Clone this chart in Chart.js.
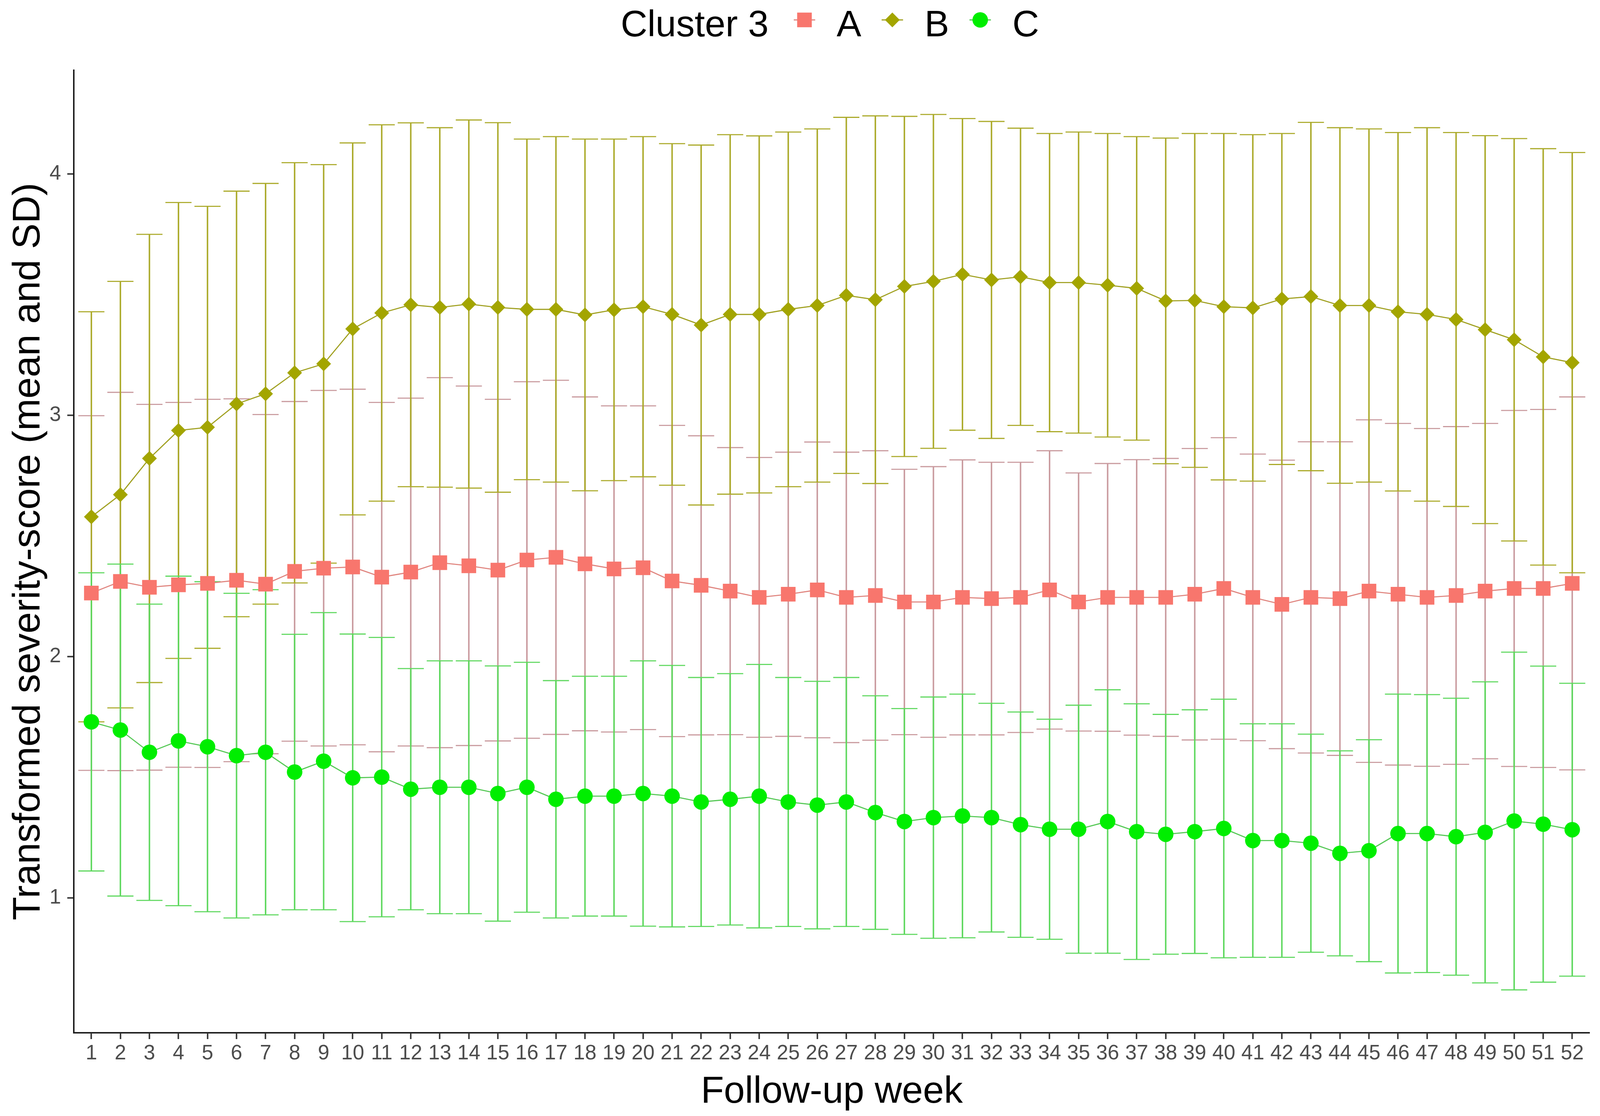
<!DOCTYPE html>
<html><head><meta charset="utf-8">
<script src="https://cdn.jsdelivr.net/npm/chart.js@4.4.1/dist/chart.umd.min.js"></script>
<style>html,body{margin:0;padding:0;background:#fff;overflow:hidden;}canvas{display:block;}</style>
</head><body>
<canvas id="c"></canvas>
<script>
const weeks = [1,2,3,4,5,6,7,8,9,10,11,12,13,14,15,16,17,18,19,20,21,22,23,24,25,26,27,28,29,30,31,32,33,34,35,36,37,38,39,40,41,42,43,44,45,46,47,48,49,50,51,52];
const yTicks = [1,2,3,4];
const legendTitle = 'Cluster 3';
const seriesNames = ['A','B','C'];

const meanA = [2.263,2.311,2.287,2.297,2.303,2.316,2.300,2.353,2.366,2.371,2.329,2.350,2.389,2.376,2.358,2.400,2.411,2.384,2.363,2.368,2.313,2.295,2.271,2.245,2.258,2.276,2.245,2.253,2.226,2.226,2.245,2.240,2.245,2.276,2.226,2.245,2.245,2.245,2.258,2.282,2.245,2.216,2.245,2.240,2.271,2.258,2.245,2.253,2.271,2.282,2.282,2.303];
const sdA   = [0.735,0.784,0.758,0.756,0.763,0.752,0.703,0.704,0.737,0.737,0.724,0.721,0.767,0.745,0.708,0.739,0.734,0.692,0.676,0.671,0.645,0.620,0.595,0.580,0.589,0.613,0.602,0.600,0.550,0.561,0.570,0.565,0.560,0.577,0.535,0.555,0.571,0.576,0.604,0.625,0.594,0.598,0.645,0.650,0.710,0.708,0.700,0.700,0.695,0.738,0.742,0.773];

const meanB = [2.579,2.671,2.821,2.937,2.950,3.047,3.089,3.176,3.213,3.358,3.424,3.458,3.447,3.461,3.447,3.439,3.439,3.416,3.437,3.450,3.418,3.374,3.418,3.418,3.439,3.455,3.497,3.479,3.534,3.555,3.584,3.561,3.574,3.550,3.550,3.539,3.526,3.474,3.476,3.450,3.445,3.482,3.492,3.455,3.455,3.429,3.418,3.397,3.355,3.313,3.242,3.218];
const sdB   = [0.850,0.884,0.929,0.945,0.916,0.882,0.872,0.871,0.826,0.771,0.780,0.754,0.745,0.763,0.766,0.706,0.716,0.729,0.708,0.705,0.708,0.746,0.745,0.740,0.735,0.732,0.738,0.762,0.705,0.692,0.646,0.657,0.616,0.618,0.624,0.629,0.629,0.675,0.692,0.718,0.718,0.686,0.722,0.737,0.732,0.743,0.774,0.775,0.804,0.834,0.863,0.871];

const meanC = [1.729,1.695,1.603,1.650,1.626,1.589,1.603,1.521,1.566,1.497,1.500,1.450,1.458,1.458,1.432,1.458,1.408,1.421,1.421,1.432,1.421,1.397,1.408,1.421,1.397,1.384,1.397,1.353,1.316,1.332,1.339,1.332,1.303,1.284,1.284,1.316,1.274,1.263,1.274,1.287,1.237,1.237,1.226,1.184,1.195,1.266,1.266,1.253,1.271,1.318,1.305,1.282];
const sdC   = [0.618,0.688,0.614,0.683,0.684,0.673,0.674,0.571,0.616,0.596,0.579,0.500,0.524,0.524,0.529,0.518,0.492,0.497,0.497,0.550,0.542,0.516,0.521,0.546,0.516,0.513,0.516,0.484,0.468,0.500,0.505,0.474,0.467,0.456,0.514,0.546,0.530,0.497,0.505,0.536,0.484,0.484,0.452,0.425,0.460,0.578,0.576,0.574,0.624,0.700,0.655,0.607];

const FONT = "'Liberation Sans', Arial, Helvetica, sans-serif";

// layout scaling to the actual viewport (design size 4328 x 2858)
const W0 = 4328, H0 = 2858;
const VW = window.innerWidth || W0, VH = window.innerHeight || H0;
const sx = VW / W0, sy = VH / H0, s = Math.min(sx, sy);
const X = v => v * sx, Y = v => v * sy, S = v => v * s;

const canvas = document.getElementById('c');
canvas.width = VW; canvas.height = VH;
canvas.style.width = VW + 'px'; canvas.style.height = VH + 'px';

const styles = [
  {color:'#F8766D', line:'#E0857F', err:'#C99A9E', pointStyle:'rect',    radius:28, order:3},
  {color:'#A3A500', line:'#A0A020', err:'#ABAA2A', pointStyle:'rectRot', radius:20, order:2},
  {color:'#00EE00', line:'#55C855', err:'#5ED85E', pointStyle:'circle',  radius:21, order:1}
];
const means = [meanA, meanB, meanC];
const sds = [sdA, sdB, sdC];

const datasets = seriesNames.map((name, k) => ({
  label: name,
  data: weeks.map((w, i) => ({x: w, y: means[k][i]})),
  sd: sds[k],
  errorColor: styles[k].err,
  borderColor: styles[k].line,
  backgroundColor: styles[k].color,
  pointBackgroundColor: styles[k].color,
  pointBorderColor: styles[k].color,
  pointBorderWidth: 0,
  pointStyle: styles[k].pointStyle,
  pointRadius: S(styles[k].radius),
  borderWidth: S(3),
  tension: 0,
  order: styles[k].order,
  fill: false
}));

const errorBarPlugin = {
  id: 'errorBars',
  beforeDatasetsDraw(chart) {
    const ctx = chart.ctx;
    const xs = chart.scales.x, ys = chart.scales.y;
    const half = Math.abs(xs.getPixelForValue(1.45) - xs.getPixelForValue(1));
    ctx.save();
    chart.data.datasets.forEach(ds => {
      ctx.strokeStyle = ds.errorColor;
      ds.data.forEach((p, i) => {
        const x = xs.getPixelForValue(p.x);
        const yt = ys.getPixelForValue(p.y + ds.sd[i]);
        const yb = ys.getPixelForValue(p.y - ds.sd[i]);
        ctx.lineWidth = S(4);
        ctx.beginPath(); ctx.moveTo(x, yt); ctx.lineTo(x, yb); ctx.stroke();
        ctx.lineWidth = S(3);
        ctx.beginPath();
        ctx.moveTo(x - half, yt); ctx.lineTo(x + half, yt);
        ctx.moveTo(x - half, yb); ctx.lineTo(x + half, yb);
        ctx.stroke();
      });
    });
    ctx.restore();
  }
};

function drawSymbol(ctx, style, cx, cy, r, color) {
  ctx.fillStyle = color;
  ctx.beginPath();
  if (style === 'rect') {
    const h = r * Math.SQRT1_2;
    ctx.rect(cx - h, cy - h, 2 * h, 2 * h);
  } else if (style === 'rectRot') {
    ctx.moveTo(cx - r, cy); ctx.lineTo(cx, cy - r); ctx.lineTo(cx + r, cy); ctx.lineTo(cx, cy + r); ctx.closePath();
  } else {
    ctx.arc(cx, cy, r, 0, Math.PI * 2);
  }
  ctx.fill();
}

const legendPlugin = {
  id: 'topLegend',
  afterDraw(chart) {
    const ctx = chart.ctx;
    ctx.save();
    ctx.font = S(100) + 'px ' + FONT;
    ctx.fillStyle = '#000';
    ctx.textBaseline = 'alphabetic';
    ctx.textAlign = 'left';
    const baseY = Y(93), keyY = Y(51);
    let x = X(1679);
    ctx.fillText(legendTitle, x, baseY);
    x += ctx.measureText(legendTitle).width;
    chart.data.datasets.forEach((ds, k) => {
      const cx = x + S(k === 0 ? 97 : 84);
      ctx.strokeStyle = ds.borderColor;
      ctx.lineWidth = S(3);
      ctx.beginPath(); ctx.moveTo(cx - S(29), keyY); ctx.lineTo(cx + S(29), keyY); ctx.stroke();
      drawSymbol(ctx, ds.pointStyle, cx, keyY, ds.pointRadius, ds.backgroundColor);
      ctx.fillStyle = '#000';
      const tx = cx + S(87);
      ctx.fillText(ds.label, tx, baseY);
      x = tx + ctx.measureText(ds.label).width;
    });
    ctx.restore();
  }
};

Chart.defaults.font.family = FONT;

new Chart(canvas, {
  type: 'line',
  data: { datasets },
  options: {
    responsive: false,
    animation: false,
    events: [],
    layout: { padding: { top: Y(180), right: X(15), left: 0, bottom: 0 } },
    plugins: { legend: { display: false }, tooltip: { enabled: false } },
    scales: {
      x: {
        type: 'linear', min: 0.4, max: 52.6,
        afterBuildTicks: sc => { sc.ticks = weeks.map(v => ({ value: v })); },
        afterFit: sc => { sc.height = Y(213); },
        ticks: { font: { size: S(56) }, color: '#4D4D4D', padding: Y(6), maxRotation: 0, autoSkip: false, callback: v => String(v) },
        grid: { display: true, drawOnChartArea: false, drawTicks: true, tickLength: Y(16), tickColor: '#333333', tickWidth: S(4) },
        border: { display: true, color: '#1a1a1a', width: S(4) },
        title: { display: true, text: 'Follow-up week', color: '#000', font: { size: S(102), lineHeight: 1 }, padding: { top: 0, bottom: Y(12) } }
      },
      y: {
        type: 'linear', min: 0.44, max: 4.43,
        afterBuildTicks: sc => { sc.ticks = yTicks.map(v => ({ value: v })); },
        afterFit: sc => { sc.width = X(200); },
        ticks: { font: { size: S(56) }, color: '#4D4D4D', padding: X(17), callback: v => String(v) },
        grid: { display: true, drawOnChartArea: false, drawTicks: true, tickLength: X(18), tickColor: '#333333', tickWidth: S(4) },
        border: { display: true, color: '#1a1a1a', width: S(4) },
        title: { display: true, text: 'Transformed severity-score (mean and SD)', color: '#000', font: { size: S(104), lineHeight: 1 }, padding: { top: X(26), bottom: 0 } }
      }
    }
  },
  plugins: [errorBarPlugin, legendPlugin]
});
</script>
</body></html>
